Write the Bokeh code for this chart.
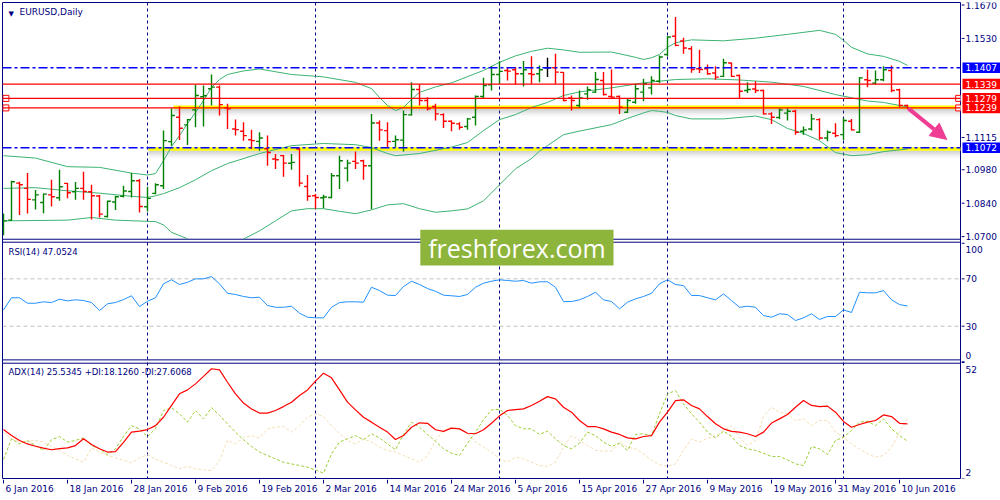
from bokeh.plotting import figure
from bokeh.layouts import column, row
from bokeh.models import Range1d, Span, Label, Arrow, NormalHead
from bokeh.embed import file_html
from bokeh.resources import INLINE
from bokeh.core.properties import value

NAN = float("nan")

# ---------------- data ----------------
date_tick_index = [0, 8, 16, 24, 32, 40, 48, 56, 64, 72, 80, 88, 96, 104, 112]
date_tick_labels = ["6 Jan 2016", "18 Jan 2016", "28 Jan 2016", "9 Feb 2016", "19 Feb 2016",
                    "2 Mar 2016", "14 Mar 2016", "24 Mar 2016", "5 Apr 2016", "15 Apr 2016",
                    "27 Apr 2016", "9 May 2016", "19 May 2016", "31 May 2016", "10 Jun 2016"]
month_start_index = [18, 39, 62, 83, 105]

bar_open = [
    1.0738, 1.0769, 1.0924, 1.0902, 1.0854, 1.0843, 1.0875, 1.0863, 1.0923, 1.0888,
    1.0902, 1.0888, 1.0870, 1.0784, 1.0845, 1.0869, 1.0889, 1.0934, 1.0825, 1.0881,
    1.0913, 1.1098, 1.1200, 1.1168, 1.1231, 1.1286, 1.1319, 1.1326, 1.1239, 1.1151,
    1.1141, 1.1106, 1.1099, 1.1068, 1.1025, 1.1039, 1.1007, 1.1067, 1.0910, 1.0871,
    1.0863, 1.0864, 1.0955, 1.0987, 1.1015, 1.1018, 1.0997, 1.1176, 1.1144, 1.1099,
    1.1104, 1.1210, 1.1316, 1.1270, 1.1245, 1.1211, 1.1183, 1.1172, 1.1161, 1.1200,
    1.1287, 1.1336, 1.1379, 1.1396, 1.1399, 1.1382, 1.1382, 1.1382, 1.1407, 1.1407,
    1.1388, 1.1281, 1.1249, 1.1298, 1.1305, 1.1354, 1.1287, 1.1287, 1.1221, 1.1263,
    1.1305, 1.1323, 1.1351, 1.1463, 1.1539, 1.1519, 1.1487, 1.1403, 1.1403, 1.1385,
    1.1371, 1.1427, 1.1375, 1.1312, 1.1318, 1.1312, 1.1214, 1.1199, 1.1217, 1.1225,
    1.1141, 1.1151, 1.1190, 1.1113, 1.1133, 1.1127, 1.1183, 1.1137, 1.1357, 1.1343,
    1.1357, 1.1396, 1.1315, 1.1249]
bar_high = [
    1.0797, 1.0934, 1.0930, 1.0966, 1.0895, 1.0881, 1.0938, 1.0980, 1.0925, 1.0929,
    1.0972, 1.0917, 1.0874, 1.0850, 1.0871, 1.0913, 1.0966, 1.0941, 1.0909, 1.0923,
    1.1144, 1.1238, 1.1246, 1.1193, 1.1336, 1.1333, 1.1379, 1.1333, 1.1256, 1.1190,
    1.1179, 1.1148, 1.1137, 1.1123, 1.1046, 1.1042, 1.1046, 1.1071, 1.0958, 1.0878,
    1.0875, 1.0966, 1.1039, 1.1022, 1.1057, 1.1022, 1.1214, 1.1186, 1.1179, 1.1123,
    1.1228, 1.1347, 1.1337, 1.1284, 1.1256, 1.1217, 1.1186, 1.1179, 1.1197, 1.1291,
    1.1365, 1.1413, 1.1434, 1.1410, 1.1410, 1.1435, 1.1455, 1.1417, 1.1449, 1.1466,
    1.1389, 1.1291, 1.1312, 1.1329, 1.1389, 1.1389, 1.1400, 1.1291, 1.1277, 1.1340,
    1.1361, 1.1372, 1.1459, 1.1539, 1.1620, 1.1533, 1.1497, 1.1483, 1.1421, 1.1413,
    1.1445, 1.1428, 1.1379, 1.1347, 1.1351, 1.1315, 1.1221, 1.1238, 1.1238, 1.1231,
    1.1161, 1.1214, 1.1196, 1.1144, 1.1175, 1.1197, 1.1193, 1.1368, 1.1399, 1.1396,
    1.1413, 1.1417, 1.1319, 1.1252]
bar_low = [
    1.0706, 1.0766, 1.0791, 1.0797, 1.0814, 1.0798, 1.0826, 1.0850, 1.0861, 1.0854,
    1.0854, 1.0772, 1.0780, 1.0780, 1.0811, 1.0864, 1.0864, 1.0801, 1.0805, 1.0877,
    1.0899, 1.1081, 1.1105, 1.1084, 1.1158, 1.1161, 1.1249, 1.1207, 1.1151, 1.1123,
    1.1102, 1.1067, 1.1060, 1.0997, 1.0983, 1.0951, 1.0980, 1.0910, 1.0850, 1.0817,
    1.0819, 1.0861, 1.0899, 1.0931, 1.0983, 1.0938, 1.0815, 1.1102, 1.1074, 1.1074,
    1.1056, 1.1207, 1.1249, 1.1228, 1.1186, 1.1155, 1.1141, 1.1148, 1.1148, 1.1165,
    1.1280, 1.1312, 1.1340, 1.1354, 1.1337, 1.1329, 1.1340, 1.1347, 1.1368, 1.1340,
    1.1267, 1.1228, 1.1239, 1.1273, 1.1301, 1.1291, 1.1277, 1.1214, 1.1218, 1.1256,
    1.1267, 1.1295, 1.1343, 1.1455, 1.1497, 1.1466, 1.1386, 1.1385, 1.1378, 1.1357,
    1.1368, 1.1368, 1.1277, 1.1301, 1.1301, 1.1211, 1.1172, 1.1193, 1.1186, 1.1127,
    1.1127, 1.1144, 1.1106, 1.1099, 1.1116, 1.1105, 1.1144, 1.1134, 1.1326, 1.1336,
    1.1351, 1.1305, 1.1242, 1.1236]
bar_close = [
    1.0766, 1.0930, 1.0917, 1.0856, 1.0875, 1.0878, 1.0867, 1.0909, 1.0884, 1.0902,
    1.0889, 1.0871, 1.0794, 1.0848, 1.0867, 1.0891, 1.0934, 1.0826, 1.0860, 1.0917,
    1.1102, 1.1207, 1.1154, 1.1190, 1.1291, 1.1290, 1.1326, 1.1253, 1.1235, 1.1148,
    1.1123, 1.1102, 1.1113, 1.1052, 1.1022, 1.1008, 1.1011, 1.0924, 1.0869, 1.0864,
    1.0866, 1.0955, 1.1018, 1.1008, 1.1008, 1.0997, 1.1176, 1.1147, 1.1098, 1.1106,
    1.1211, 1.1316, 1.1270, 1.1235, 1.1214, 1.1183, 1.1175, 1.1158, 1.1193, 1.1287,
    1.1333, 1.1379, 1.1392, 1.1393, 1.1382, 1.1399, 1.1379, 1.1399, 1.1407, 1.1389,
    1.1270, 1.1270, 1.1281, 1.1315, 1.1358, 1.1295, 1.1284, 1.1242, 1.1270, 1.1319,
    1.1340, 1.1354, 1.1452, 1.1536, 1.1501, 1.1490, 1.1400, 1.1400, 1.1382, 1.1368,
    1.1428, 1.1371, 1.1309, 1.1316, 1.1312, 1.1214, 1.1200, 1.1231, 1.1225, 1.1137,
    1.1147, 1.1193, 1.1113, 1.1137, 1.1123, 1.1186, 1.1147, 1.1365, 1.1354, 1.1357,
    1.1399, 1.1312, 1.1249, 1.1238]

bb_upper_idx = [0, 4, 8, 12, 16, 18, 19, 20, 21, 22, 23, 24, 25, 26, 27, 28, 30, 32, 36, 40,
                44, 46, 47, 48, 49, 50, 51, 52, 54, 56, 60, 62, 64, 66, 68, 70, 72, 76, 79, 80,
                81, 82, 83, 84, 86, 90, 94, 98, 102, 104, 105, 106, 108, 110, 112, 113]
bb_upper = [1.1039, 1.1029, 1.0993, 1.0990, 1.0966, 1.0958, 1.0964, 1.1018, 1.1077, 1.1123,
            1.1174, 1.1220, 1.1270, 1.1325, 1.1358, 1.1379, 1.1394, 1.1402, 1.1379, 1.1369,
            1.1346, 1.1320, 1.1283, 1.1249, 1.1228, 1.1241, 1.1274, 1.1304, 1.1327, 1.1344,
            1.1396, 1.1430, 1.1457, 1.1476, 1.1489, 1.1482, 1.1472, 1.1473, 1.1451, 1.1442,
            1.1449, 1.1463, 1.1493, 1.1512, 1.1524, 1.1520, 1.1531, 1.1547, 1.1564, 1.1547,
            1.1522, 1.1493, 1.1465, 1.1455, 1.1434, 1.1417]
bb_mid_idx = [0, 4, 8, 12, 16, 18, 19, 20, 22, 24, 26, 28, 32, 36, 40, 44, 46, 48, 49, 52,
              56, 58, 60, 62, 64, 66, 68, 70, 72, 76, 80, 84, 88, 92, 96, 100, 104, 108, 110, 113]
bb_mid = [1.0902, 1.0905, 1.0892, 1.0882, 1.0869, 1.0864, 1.0871, 1.0880, 1.0905, 1.0938,
          1.0976, 1.1006, 1.1048, 1.1081, 1.1090, 1.1085, 1.1073, 1.1048, 1.1039, 1.1048,
          1.1075, 1.1094, 1.1144, 1.1190, 1.1211, 1.1241, 1.1262, 1.1291, 1.1306, 1.1323,
          1.1344, 1.1358, 1.1361, 1.1356, 1.1347, 1.1329, 1.1295, 1.1268, 1.1262, 1.1243]
# the lower band leaves the price window around 9-16 Feb (NaN = not visible there)
bb_low_idx = [0, 8, 11, 14, 18, 19, 20, 21, 23, 24, 30, 32, 34, 36, 38, 40, 42, 44, 46, 48,
              50, 52, 54, 56, 58, 60, 62, 64, 66, 67, 68, 70, 72, 76, 78, 80, 81, 82, 83, 84,
              86, 90, 94, 96, 98, 100, 102, 104, 106, 108, 110, 113]
bb_low = [1.0766, 1.0769, 1.0780, 1.0769, 1.0764, 1.0763, 1.0749, 1.0718, 1.0691, NAN,
          1.0690, 1.0724, 1.0766, 1.0808, 1.0817, 1.0817, 1.0806, 1.0796, 1.0812, 1.0833,
          1.0838, 1.0817, 1.0802, 1.0808, 1.0816, 1.0850, 1.0917, 1.0984, 1.1027, 1.1058,
          1.1081, 1.1127, 1.1142, 1.1169, 1.1195, 1.1218, 1.1228, 1.1225, 1.1220, 1.1207,
          1.1193, 1.1193, 1.1205, 1.1190, 1.1153, 1.1132, 1.1102, 1.1052, 1.1039, 1.1043,
          1.1056, 1.1067]

rsi = [43.8, 54.0, 54.0, 49.4, 49.4, 50.6, 50.0, 52.8, 51.4, 52.3,
       51.7, 50.0, 43.2, 48.9, 50.0, 52.5, 55.7, 46.6, 51.1, 54.0,
       65.8, 69.2, 65.2, 67.1, 70.0, 70.0, 71.9, 65.8, 57.8, 56.8,
       55.1, 54.0, 54.5, 47.5, 46.0, 46.0, 46.9, 41.0, 37.6, 37.1,
       37.1, 46.0, 50.0, 50.6, 50.6, 50.3, 62.9, 60.1, 56.2, 55.9,
       63.5, 68.0, 65.2, 61.8, 59.5, 56.2, 55.7, 55.1, 56.8, 62.9,
       66.3, 68.0, 69.2, 68.6, 68.0, 68.6, 66.3, 67.5, 67.5, 62.9,
       50.8, 50.8, 52.3, 55.1, 58.7, 52.3, 50.8, 44.7, 50.3, 53.1,
       55.1, 57.8, 65.8, 69.2, 65.2, 64.3, 55.9, 55.9, 54.0, 52.3,
       57.3, 51.7, 46.0, 46.9, 46.0, 39.0, 37.6, 40.5, 39.9, 34.8,
       37.1, 40.5, 35.7, 38.2, 38.2, 43.8, 41.6, 58.7, 58.2, 58.2,
       60.1, 52.3, 48.3, 47.05]
adx = [23.1, 20.5, 18.4, 16.9, 15.9, 15.1, 14.4, 14.9, 15.2, 16.2,
       19.1, 16.7, 14.8, 13.4, 13.6, 17.6, 22.0, 22.4, 23.1, 24.8,
       28.4, 33.5, 38.5, 40.2, 42.8, 46.0, 49.3, 48.8, 43.5, 38.5,
       34.5, 32.0, 30.2, 30.2, 31.3, 33.0, 34.9, 37.8, 40.2, 44.0,
       47.4, 45.4, 40.2, 34.9, 31.6, 28.4, 26.3, 24.1, 22.0, 18.8,
       20.5, 24.1, 26.0, 25.8, 23.0, 22.3, 23.7, 23.4, 21.5, 21.3,
       23.0, 25.8, 29.0, 31.3, 31.7, 32.0, 33.5, 35.3, 37.3, 36.3,
       32.7, 30.6, 27.0, 24.4, 24.4, 23.4, 22.0, 21.0, 19.5, 19.1,
       20.1, 20.5, 26.3, 30.6, 35.6, 35.9, 33.5, 32.0, 28.7, 25.6,
       23.4, 22.3, 22.0, 21.3, 20.1, 22.0, 25.9, 27.7, 29.6, 32.7,
       35.6, 33.5, 33.0, 33.2, 30.6, 26.6, 24.1, 25.3, 26.3, 27.0,
       29.4, 28.7, 25.8, 25.53]
plus_di = [10.2, 19.1, 16.9, 18.4, 16.2, 14.1, 18.7, 20.1, 17.7, 18.4,
           19.5, 16.2, 14.8, 12.3, 14.8, 20.1, 24.8, 23.4, 20.1, 23.4,
           31.3, 32.5, 29.9, 26.3, 31.3, 27.7, 32.5, 29.2, 25.6, 22.0,
           18.7, 15.8, 13.4, 11.9, 10.5, 9.0, 8.3, 7.6, 6.9, 5.7,
           4.3, 12.6, 17.7, 19.1, 20.5, 18.7, 21.3, 19.5, 16.9, 14.4,
           21.0, 26.3, 24.1, 21.0, 18.1, 14.8, 12.9, 11.9, 17.2, 22.0,
           27.3, 31.6, 31.8, 29.2, 24.8, 23.4, 23.4, 21.0, 22.4, 19.1,
           16.2, 14.8, 17.2, 22.0, 20.5, 17.7, 15.8, 17.2, 14.1, 21.0,
           21.3, 20.5, 29.9, 38.5, 39.9, 34.2, 29.9, 26.3, 22.0, 19.5,
           22.4, 20.1, 16.2, 14.8, 14.1, 12.9, 11.5, 11.5, 10.0, 8.3,
           7.6, 15.8, 14.8, 12.3, 18.4, 19.8, 22.7, 26.3, 26.7, 24.8,
           27.7, 23.4, 20.5, 18.13]
minus_di = [22.0, 19.1, 17.7, 18.1, 18.4, 17.7, 15.8, 14.1, 11.9, 10.5,
            9.0, 15.2, 13.4, 11.9, 10.9, 9.8, 8.8, 10.9, 12.3, 10.3,
            9.0, 7.6, 6.2, 7.2, 6.2, 5.7, 5.45, 9.8, 18.4, 16.9,
            19.5, 20.5, 19.5, 23.4, 24.1, 24.4, 22.0, 24.8, 28.4, 29.9,
            28.7, 24.8, 21.3, 18.4, 16.9, 19.1, 17.7, 15.5, 14.1, 13.4,
            11.9, 10.5, 9.0, 11.9, 18.4, 22.7, 24.1, 23.4, 21.5, 17.7,
            15.5, 13.4, 10.6, 9.0, 11.2, 10.5, 9.0, 7.6, 7.2, 9.0,
            15.5, 20.5, 18.4, 16.2, 14.1, 13.8, 13.8, 17.7, 15.5, 14.8,
            12.6, 9.8, 8.0, 7.2, 8.3, 14.1, 19.1, 17.7, 19.5, 20.1,
            22.7, 24.8, 19.8, 16.2, 18.4, 28.7, 32.7, 30.6, 29.9, 27.0,
            27.7, 24.8, 27.0, 27.0, 22.0, 19.8, 16.9, 14.8, 12.6, 11.2,
            11.9, 15.5, 22.0, 27.61]

price_ticks = [1.0700, 1.0840, 1.0980, 1.1115, 1.1530, 1.1670]
price_tick_labels = ["1.0700", "1.0840", "1.0980", "1.1115", "1.1530", "1.1670"]
rsi_ticks = [100, 70, 30, 0]
rsi_tick_labels = ["100", "70", "30", "0"]
rsi_label_anchor = [94.5, 70, 30, 5.5]      # MT4 keeps the end labels inside the window
adx_ticks = [52, 2]
adx_tick_labels = ["52", "2"]
adx_label_anchor = [49.0, 4.5]
level_blue = [1.1407, 1.1072]
level_red = [1.1339, 1.1279, 1.1239]
level_selected = [1.1279, 1.1239]
level_tags = [1.1407, 1.1339, 1.1279, 1.1239, 1.1072]
level_tag_colors = ["#0000ff", "#ff0000", "#ff0000", "#ff0000", "#0000ff"]
yellow_levels = [1.1242, 1.1067]
yellow_start = [21.25, 18.1]

for arr in (bar_open, bar_high, bar_low, bar_close, rsi, adx, plus_di, minus_di):
    assert len(arr) == 114, len(arr)

# ---------------- layout / scales ----------------
X_START, X_END = -0.125, 119.625
PRICE_FRAME = (0.96870, 1.16805)      # whole chart height on the price scale
RSI_FRAME = (-98.5, 303.2)            # whole chart height on the RSI scale
ADX_FRAME = (2.0, 207.2)              # whole chart height on the ADX scale
MAIN_BOTTOM = 1.0689                  # bottom border of the price window
RSI_TOP, RSI_BOTTOM = 100.9, 1.6
ADX_TOP = 51.7

FONT = "DejaVu Sans"
NAVY = "#000080"
UP, DOWN, DOJI = "#008000", "#ff0000", "#000000"
BB_COLOR = "#3cb371"
WM_COLOR = "#8db53c"
ARROW_COLOR = "#ef3d94"

MAIN_W, MAIN_H = 961, 479
SCALE_W = 1000 - MAIN_W
AXIS_H = 500 - MAIN_H
FRAME_H = MAIN_H - 3

yr = Range1d(*PRICE_FRAME)
xr = Range1d(X_START, X_END)
extra = {"rsi": Range1d(*RSI_FRAME), "adx": Range1d(*ADX_FRAME)}


def bare(fig):
    fig.grid.visible = False
    fig.background_fill_color = "white"
    fig.border_fill_color = "white"
    return fig


p = bare(figure(width=MAIN_W, height=MAIN_H, x_range=xr, y_range=yr,
                x_axis_location=None, y_axis_location=None,
                output_backend="svg", toolbar_location=None,
                min_border_left=2, min_border_right=1, min_border_top=2, min_border_bottom=1))
p.extra_y_ranges = extra
p.outline_line_color = NAVY
p.outline_line_width = 1

# month separators and window borders
for m in month_start_index:
    p.add_layout(Span(location=m, dimension="height", line_color=NAVY, line_width=1,
                      line_dash="3 3", level="underlay"))
p.add_layout(Span(location=MAIN_BOTTOM, dimension="width", line_color=NAVY, level="underlay"))
p.add_layout(Span(location=RSI_TOP, dimension="width", y_range_name="rsi", line_color=NAVY, level="underlay"))
p.add_layout(Span(location=RSI_BOTTOM, dimension="width", y_range_name="rsi", line_color=NAVY, level="underlay"))
p.add_layout(Span(location=ADX_TOP, dimension="width", y_range_name="adx", line_color=NAVY, level="underlay"))
for lv in (70, 30):
    p.add_layout(Span(location=lv, dimension="width", y_range_name="rsi", line_color="#c0c0c0",
                      line_dash="4 3", line_width=1, level="underlay"))

# yellow zones with a soft shadow
px = (PRICE_FRAME[1] - PRICE_FRAME[0]) / FRAME_H
for lv, xs in zip(yellow_levels, yellow_start):
    for k, a in enumerate([0.28, 0.18, 0.10, 0.04]):
        p.quad(left=[xs], right=[X_END + 5], top=[lv - (1.5 + 2 * k) * px],
               bottom=[lv - (3.5 + 2 * k) * px], fill_color="#606060", fill_alpha=a, line_color=None)
    p.segment(x0=[xs], y0=[lv], x1=[X_END + 5], y1=[lv], line_color="#ffff00", line_width=3.5)

# Bollinger bands
p.line(bb_upper_idx, bb_upper, line_color=BB_COLOR, line_width=1)
p.line(bb_mid_idx, bb_mid, line_color=BB_COLOR, line_width=1)
p.line(bb_low_idx, bb_low, line_color=BB_COLOR, line_width=1)

# OHLC bars
idx = list(range(len(bar_open)))
colors = [UP if c > o else (DOWN if c < o else DOJI) for o, c in zip(bar_open, bar_close)]
tick = 0.42
p.segment(x0=idx, y0=bar_low, x1=idx, y1=bar_high, line_color=colors, line_width=1.4)
p.segment(x0=[i - tick for i in idx], y0=bar_open, x1=idx, y1=bar_open, line_color=colors, line_width=1.4)
p.segment(x0=idx, y0=bar_close, x1=[i + tick for i in idx], y1=bar_close, line_color=colors, line_width=1.4)

# RSI window
p.line(idx, rsi, y_range_name="rsi", line_color="#1e90ff", line_width=1)
# ADX window
p.line(idx, minus_di, y_range_name="adx", line_color="#f5deb3", line_width=1, line_dash="3 2")
p.line(idx, plus_di, y_range_name="adx", line_color="#9acd32", line_width=1, line_dash="3 2")
p.line(idx, adx, y_range_name="adx", line_color="#ff0000", line_width=1.2)

# watermark
WM_LEFT, WM_RIGHT, WM_TOP, WM_BOTTOM = 52.1, 76.25, 1.0729, 1.0579
p.quad(left=[WM_LEFT], right=[WM_RIGHT], top=[WM_TOP], bottom=[WM_BOTTOM],
       fill_color=WM_COLOR, line_color=None)
p.text(x=[(WM_LEFT + WM_RIGHT) / 2], y=[(WM_TOP + WM_BOTTOM) / 2], text=["freshforex.com"],
       text_font=value("Open Sans"), text_font_size="25px", text_color="white",
       text_align="center", text_baseline="middle")

# horizontal level objects
for lv in level_blue:
    p.add_layout(Span(location=lv, dimension="width", line_color="#0000ff", line_width=1.4,
                      line_dash="9 3 3 3"))
for lv in level_red:
    p.add_layout(Span(location=lv, dimension="width", line_color="#ff0000", line_width=1.3))
sq_x, sq_y = [], []
for lv in level_selected:
    sq_x += [0.3, 119.4]
    sq_y += [lv, lv]
p.scatter(sq_x, sq_y, marker="square", size=6, fill_color="white", line_color="#ff0000", line_width=1)

# arrow
p.add_layout(Arrow(end=NormalHead(size=16, fill_color=ARROW_COLOR, line_color=ARROW_COLOR),
                   x_start=113.1, y_start=1.1237, x_end=117.9, y_end=1.1107,
                   line_color=ARROW_COLOR, line_width=4))

# window captions
p.add_layout(Label(x=X_START, y=PRICE_FRAME[1], x_offset=6, y_offset=-7, text="\u25bc",
                   text_baseline="top", text_color=NAVY, text_font=FONT, text_font_size="7px"))
p.add_layout(Label(x=X_START, y=PRICE_FRAME[1], x_offset=17, y_offset=-4, text="EURUSD,Daily",
                   text_baseline="top", text_color=NAVY, text_font=FONT, text_font_size="9px"))
p.add_layout(Label(x=X_START, y=RSI_TOP, y_range_name="rsi", x_offset=6, y_offset=-5,
                   text="RSI(14) 47.0524", text_baseline="top", text_color=NAVY,
                   text_font=FONT, text_font_size="8.5px"))
p.add_layout(Label(x=X_START, y=ADX_TOP, y_range_name="adx", x_offset=6, y_offset=-4,
                   text="ADX(14) 25.5345 +DI:18.1260 -DI:27.6068", text_baseline="top",
                   text_color=NAVY, text_font=FONT, text_font_size="8.5px"))

# ---------------- price / indicator scale (right) ----------------
s = bare(figure(width=SCALE_W, height=MAIN_H, x_range=Range1d(0, SCALE_W), y_range=yr,
                x_axis_location=None, y_axis_location=None,
                output_backend="svg", toolbar_location=None,
                min_border_left=0, min_border_right=0, min_border_top=2, min_border_bottom=1))
s.extra_y_ranges = extra
s.outline_line_color = None
lab = dict(text_font=value(FONT), text_font_size="9px", text_color=NAVY,
           text_align="left", text_baseline="middle")
s.segment(x0=0, y0=price_ticks, x1=3, y1=price_ticks, line_color=NAVY)
s.text(x=4, y=price_ticks, text=price_tick_labels, **lab)
s.segment(x0=0, y0=rsi_ticks, x1=3, y1=rsi_ticks, line_color=NAVY, y_range_name="rsi")
s.text(x=4, y=rsi_label_anchor, text=rsi_tick_labels, y_range_name="rsi", **lab)
s.segment(x0=0, y0=adx_ticks, x1=3, y1=adx_ticks, line_color=NAVY, y_range_name="adx")
s.text(x=4, y=adx_label_anchor, text=adx_tick_labels, y_range_name="adx", **lab)
half = 5.3 * px
s.quad(left=1, right=SCALE_W, top=[v + half for v in level_tags], bottom=[v - half for v in level_tags],
       fill_color=level_tag_colors, line_color=None)
s.text(x=4, y=level_tags, text=[f"{v:.4f}" for v in level_tags],
       text_font=value(FONT), text_font_size="9px", text_color="white",
       text_align="left", text_baseline="middle")

# ---------------- date scale (bottom) ----------------
b = bare(figure(width=MAIN_W, height=AXIS_H, x_range=xr, y_range=Range1d(0, AXIS_H),
                x_axis_location=None, y_axis_location=None,
                output_backend="svg", toolbar_location=None,
                min_border_left=2, min_border_right=1, min_border_top=0, min_border_bottom=0))
b.outline_line_color = None
b.segment(x0=date_tick_index, y0=AXIS_H, x1=date_tick_index, y1=AXIS_H - 4, line_color=NAVY)
b.text(x=date_tick_index, y=AXIS_H - 4, x_offset=2, text=date_tick_labels,
       text_font=value(FONT), text_font_size="9px", text_color=NAVY,
       text_align="left", text_baseline="top")

layout = column(row(p, s, spacing=0), b, spacing=0)
open("out.html", "w").write(file_html(layout, INLINE))
